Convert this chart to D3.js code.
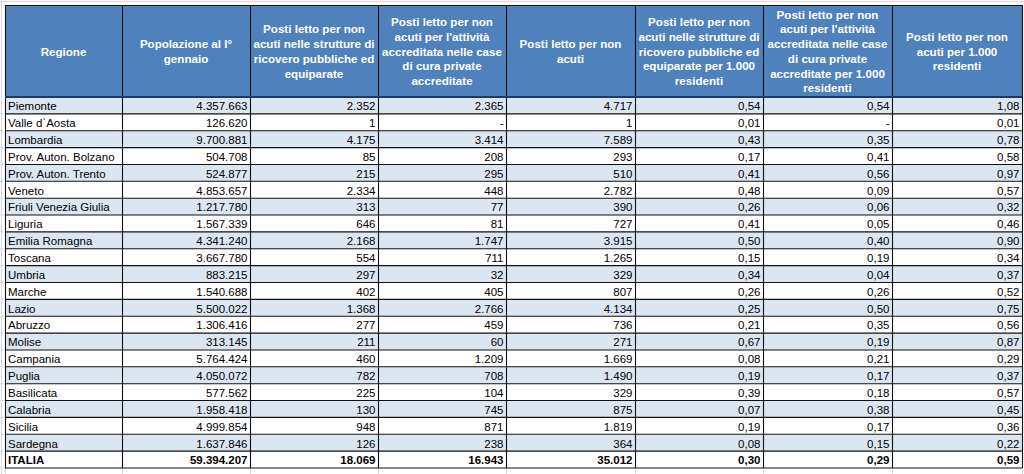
<!DOCTYPE html>
<html>
<head>
<meta charset="utf-8">
<script src="https://cdn.jsdelivr.net/npm/d3@7"></script>
<style>
html,body{margin:0;padding:0;background:#fff;}
svg{display:block;}
</style>
</head>
<body>
<svg id="chart" width="1024" height="474"></svg>
<script>
// ---- data ----
const regioni = ["Piemonte","Valle d`Aosta","Lombardia","Prov. Auton. Bolzano","Prov. Auton. Trento","Veneto","Friuli Venezia Giulia","Liguria","Emilia Romagna","Toscana","Umbria","Marche","Lazio","Abruzzo","Molise","Campania","Puglia","Basilicata","Calabria","Sicilia","Sardegna","ITALIA"];
const popolazione = [4357663,126620,9700881,504708,524877,4853657,1217780,1567339,4341240,3667780,883215,1540688,5500022,1306416,313145,5764424,4050072,577562,1958418,4999854,1637846,59394207];
const postiPubblici = [2352,1,4175,85,215,2334,313,646,2168,554,297,402,1368,277,211,460,782,225,130,948,126,18069];
const postiPrivati = [2365,null,3414,208,295,448,77,81,1747,711,32,405,2766,459,60,1209,708,104,745,871,238,16943];
const postiTotali = [4717,1,7589,293,510,2782,390,727,3915,1265,329,807,4134,736,271,1669,1490,329,875,1819,364,35012];
const tassoPubblici = [0.54,0.01,0.43,0.17,0.41,0.48,0.26,0.41,0.50,0.15,0.34,0.26,0.25,0.21,0.67,0.08,0.19,0.39,0.07,0.19,0.08,0.30];
const tassoPrivati = [0.54,null,0.35,0.41,0.56,0.09,0.06,0.05,0.40,0.19,0.04,0.26,0.50,0.35,0.19,0.21,0.17,0.18,0.38,0.17,0.15,0.29];
const tassoTotali = [1.08,0.01,0.78,0.58,0.97,0.57,0.32,0.46,0.90,0.34,0.37,0.52,0.75,0.56,0.87,0.29,0.37,0.57,0.45,0.36,0.22,0.59];
const intestazioni = [
  ["Regione"],
  ["Popolazione al I°","gennaio"],
  ["Posti letto per non","acuti nelle strutture di","ricovero pubbliche ed","equiparate"],
  ["Posti letto per non","acuti per l'attività","accreditata nelle case","di cura private","accreditate"],
  ["Posti letto per non","acuti"],
  ["Posti letto per non","acuti nelle strutture di","ricovero pubbliche ed","equiparate per 1.000","residenti"],
  ["Posti letto per non","acuti per l'attività","accreditata nelle case","di cura private","accreditate per 1.000","residenti"],
  ["Posti letto per non","acuti per 1.000","residenti"]
];

// ---- layout ----
const colEdges = [5,122,250,378,506,635,763,892,1022];
const headTop = 5, headBottom = 97, tableBottom = 468;
const font = "'Liberation Sans', Arial, sans-serif";

const it = d3.formatLocale({decimal:",", thousands:".", grouping:[3], currency:["€",""]});
const fInt = it.format(",d");
const fDec = it.format(",.2f");

const columns = [
  {vals: regioni, fmt: d => d, align: "left"},
  {vals: popolazione, fmt: fInt},
  {vals: postiPubblici, fmt: fInt},
  {vals: postiPrivati, fmt: fInt},
  {vals: postiTotali, fmt: fInt},
  {vals: tassoPubblici, fmt: fDec},
  {vals: tassoPrivati, fmt: fDec},
  {vals: tassoTotali, fmt: fDec}
];

const svg = d3.select("#chart");
const y = d3.scaleBand().domain(d3.range(regioni.length)).range([headBottom, tableBottom]).padding(0);

// faint sheet grid
const grid = svg.append("g").attr("stroke", "#d4d9e2").attr("stroke-width", 1);
colEdges.forEach(x => grid.append("line").attr("x1", x+0.5).attr("x2", x+0.5).attr("y1", tableBottom).attr("y2", 474));
grid.append("line").attr("x1", 1.5).attr("x2", 1.5).attr("y1", 0).attr("y2", 474);
grid.append("line").attr("x1", 0).attr("x2", 1024).attr("y1", 1.5).attr("y2", 1.5);
d3.range(regioni.length).forEach(i => grid.append("line").attr("x1", 0).attr("x2", 5).attr("y1", y(i)+y.bandwidth()).attr("y2", y(i)+y.bandwidth()));

// header
svg.append("rect").attr("x", colEdges[0]).attr("y", headTop)
  .attr("width", colEdges[8]-colEdges[0]).attr("height", headBottom-headTop)
  .attr("fill", "#4f81bd");

const lineH = 14.7;
const headG = svg.append("g").attr("font-family", font).attr("font-weight", "bold")
  .attr("font-size", "11.6px").attr("fill", "#fff").attr("text-anchor", "middle");
intestazioni.forEach((lines, c) => {
  const cx = (colEdges[c] + colEdges[c+1]) / 2;
  const cy = (headTop + headBottom) / 2 + 0.5;
  lines.forEach((ln, k) => {
    headG.append("text").attr("x", cx)
      .attr("y", cy + (k - (lines.length-1)/2) * lineH + 4)
      .text(ln);
  });
});

// rows background
svg.append("g").selectAll("rect").data(regioni).join("rect")
  .attr("x", colEdges[0]).attr("width", colEdges[8]-colEdges[0])
  .attr("y", (d,i) => y(i)).attr("height", y.bandwidth())
  .attr("fill", (d,i) => (i % 2 === 0 && i < regioni.length-1) ? "#dce6f1" : "#ffffff");

// cells text
const bodyG = svg.append("g").attr("font-family", font).attr("font-size", "11.5px").attr("fill", "#000");
columns.forEach((col, c) => {
  bodyG.append("g").selectAll("text").data(col.vals).join("text")
    .attr("x", col.align === "left" ? colEdges[c] + 3 : colEdges[c+1] - 2.5)
    .attr("y", (d,i) => y(i) + y.bandwidth() - 3.6)
    .attr("text-anchor", col.align === "left" ? "start" : "end")
    .attr("font-weight", (d,i) => i === regioni.length-1 ? "bold" : "normal")
    .text(d => d === null ? "-" : col.fmt(d));
});

// borders
const bG = svg.append("g").attr("stroke", "#111").attr("stroke-width", 1.1);
d3.range(regioni.length + 1).forEach(i => {
  const yy = i < regioni.length ? y(i) : tableBottom;
  bG.append("line").attr("x1", colEdges[0]).attr("x2", colEdges[8]).attr("y1", yy).attr("y2", yy);
});
colEdges.forEach(x => bG.append("line").attr("x1", x+0.5).attr("x2", x+0.5).attr("y1", headTop).attr("y2", tableBottom));
bG.append("line").attr("x1", colEdges[0]).attr("x2", colEdges[8]).attr("y1", headTop+0.5).attr("y2", headTop+0.5);
svg.append("line").attr("x1", colEdges[0]).attr("x2", colEdges[8]).attr("y1", headBottom).attr("y2", headBottom)
  .attr("stroke", "#1f3864").attr("stroke-width", 2);
</script>
</body>
</html>
